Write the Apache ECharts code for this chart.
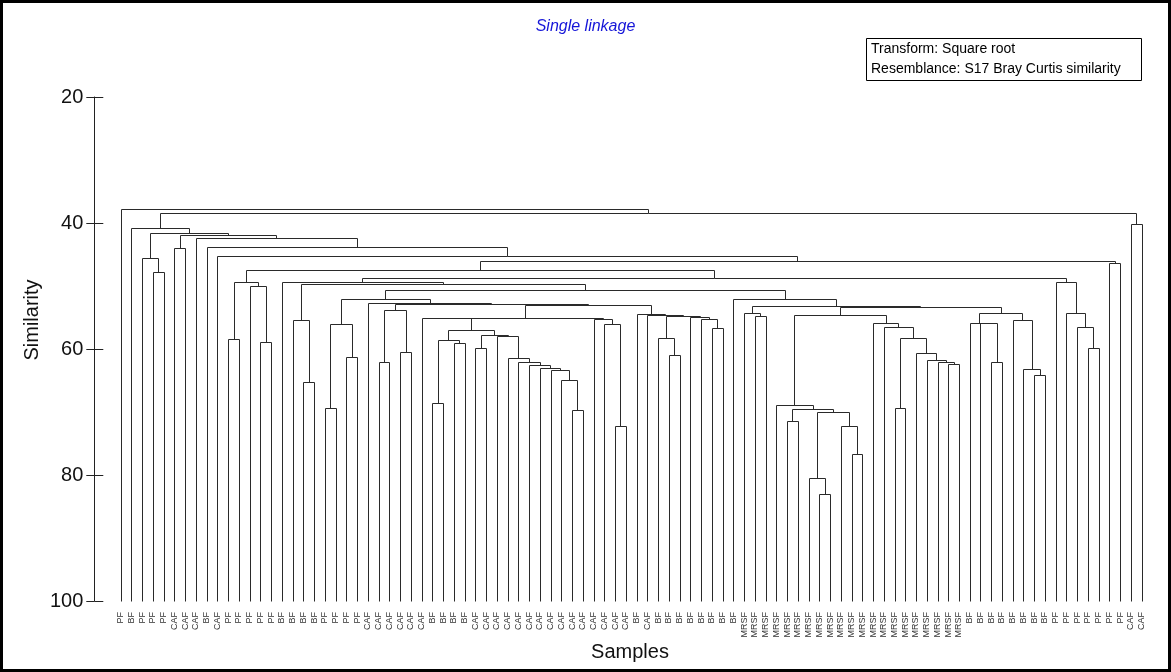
<!DOCTYPE html>
<html>
<head>
<meta charset="utf-8">
<script src="https://cdn.jsdelivr.net/npm/echarts@6/dist/echarts.min.js"></script>
<style>
html,body{margin:0;padding:0;background:#fff;}
#chart{width:1171px;height:672px;}
</style>
</head>
<body>
<div id="chart"></div>
<script>
// Leaf labels, left to right
const leafLabels = [
  'PF','BF','PF','PF','PF','CAF','CAF','CAF','BF','CAF',
  'PF','PF','PF','PF','PF','BF','BF','BF','BF',
  'PF','PF','PF','PF',
  'CAF','CAF','CAF','CAF','CAF','CAF',
  'BF','BF','BF','BF',
  'CAF','CAF','CAF','CAF','CAF','CAF','CAF','CAF','CAF','CAF','CAF','CAF','CAF','CAF','CAF',
  'BF','CAF',
  'BF','BF','BF','BF','BF','BF','BF','BF',
  'MRSF','MRSF','MRSF','MRSF','MRSF','MRSF','MRSF','MRSF','MRSF','MRSF','MRSF',
  'MRSF','MRSF','MRSF','MRSF','MRSF','MRSF','MRSF','MRSF','MRSF','MRSF',
  'BF','BF','BF','BF','BF','BF','BF','BF',
  'PF','PF','PF','PF','PF','PF','PF',
  'CAF','CAF'
];

// Merges (hclust style): negative = leaf number, positive = earlier merge row; third = similarity
const merges = [
  [-4,-5,47.8],[-3,1,45.6],[-6,-7,44.0],[-11,-12,58.4],[-14,-15,58.9],
  [-13,5,50.0],[4,6,49.3],[-18,-19,65.2],[-17,8,55.4],[-20,-21,69.4],
  [-22,-23,61.2],[10,11,56.1],[-25,-26,62.0],[-27,-28,60.5],[13,14,53.8],
  [-30,-31,68.5],[-32,-33,59.1],[16,17,58.6],[-34,-35,59.8],[-43,-44,69.7],
  [-42,20,64.9],[-41,21,63.3],[-40,22,63.0],[-39,23,62.5],[-38,24,62.0],
  [-37,25,61.4],[-36,26,57.9],[19,27,57.7],[18,28,57.0],[-29,29,55.1],
  [-47,-48,72.2],[-46,31,56.1],[-45,32,55.2],[30,33,55.0],[-52,-53,61.0],
  [-51,35,58.3],[-56,-57,56.6],[-55,37,55.2],[-54,38,54.9],[36,39,54.8],
  [-50,40,54.6],[-49,41,54.5],[34,42,53.0],[15,43,52.9],[-24,44,52.7],
  [12,45,52.1],[-60,-61,54.7],[-59,47,54.3],[-63,-64,71.4],[-66,-67,83.0],
  [-65,50,80.5],[-69,-70,76.7],[-68,52,72.3],[51,53,70.0],[49,54,69.6],
  [-62,55,68.9],[-73,-74,69.4],[-78,-79,62.4],[-77,58,62.1],[-76,59,61.7],
  [-75,60,60.7],[57,61,58.3],[-72,62,56.5],[-71,63,55.9],[56,64,54.6],
  [-82,-83,62.0],[-81,66,55.9],[-80,67,55.8],[-86,-87,64.2],[-85,69,63.2],
  [-84,70,55.4],[68,71,54.3],[65,72,53.4],[48,73,53.1],[-58,74,52.1],
  [46,75,50.6],[9,76,49.7],[-16,77,49.4],[-91,-92,59.9],[-90,79,56.5],
  [-89,80,54.3],[-88,81,49.4],[78,82,48.8],[7,83,47.5],[-93,-94,46.4],
  [84,85,46.1],[-10,86,45.3],[-9,87,43.8],[-8,88,42.4],[3,89,41.9],
  [2,90,41.6],[-2,91,40.8],[-95,-96,40.2],[92,93,38.4],[-1,94,37.8]
];

const yTicks = [20,40,60,80,100];

// Build U-shapes from the merge table
const nodeX = [], nodeH = [];
function childPos(c){ return c < 0 ? [-c, 100] : [nodeX[c-1], nodeH[c-1]]; }
const segs = merges.map((m,i)=>{
  const l = childPos(m[0]), r = childPos(m[1]);
  nodeX[i] = (l[0]+r[0])/2; nodeH[i] = m[2];
  return [l[0], l[1], r[0], r[1], m[2]];
});

function crisp(p){ return [Math.round(p[0])+0.5, Math.round(p[1])+0.5]; }

const chart = echarts.init(document.getElementById('chart'), null, {renderer:'canvas'});
chart.setOption({
  animation:false,
  backgroundColor:'#fff',
  grid:{left:120.7, right:29.3, top:97, bottom:71},
  xAxis:{
    type:'value', min:1, max:leafLabels.length, interval:1,
    axisLine:{show:false}, axisTick:{show:false}, splitLine:{show:false},
    axisLabel:{
      rotate:90, fontSize:9, color:'#333', margin:11, fontFamily:'Liberation Sans, Arial',
      formatter:v=>leafLabels[Math.round(v)-1] || ''
    }
  },
  yAxis:[{
    type:'value', inverse:true, min:yTicks[0], max:yTicks[yTicks.length-1], interval:20,
    position:'left', offset:26.4,
    axisLine:{show:true, lineStyle:{color:'#222', width:1}},
    axisTick:{show:true, inside:false, length:8, lineStyle:{color:'#222'}},
    axisLabel:{show:true, fontSize:20, color:'#111', margin:11, fontFamily:'Liberation Sans, Arial'},
    splitLine:{show:false}
  },{
    type:'value', inverse:true, min:yTicks[0], max:yTicks[yTicks.length-1], interval:20,
    position:'left', offset:26.4,
    axisLine:{show:false},
    axisTick:{show:true, inside:true, length:9, lineStyle:{color:'#222'}},
    axisLabel:{show:false}, splitLine:{show:false}
  }],
  series:[{
    type:'custom',
    xAxisIndex:0, yAxisIndex:0,
    data:segs,
    encode:{x:[0,2], y:[1,3,4]},
    renderItem:function(params, api){
      const p1 = crisp(api.coord([api.value(0), api.value(1)]));
      const p2 = crisp(api.coord([api.value(0), api.value(4)]));
      const p3 = crisp(api.coord([api.value(2), api.value(4)]));
      const p4 = crisp(api.coord([api.value(2), api.value(3)]));
      return {type:'polyline', shape:{points:[p1,p2,p3,p4]},
        style:{stroke:'#2a2a2a', lineWidth:1, fill:null}};
    }
  }],
  graphic:[
    {type:'rect', shape:{x:1.5,y:1.5,width:1168,height:669}, style:{fill:null, stroke:'#000', lineWidth:3}, silent:true},
    {type:'text', left:'center', top:19, style:{text:'Single linkage', fill:'#1515d8', font:'italic 16px "Liberation Sans", Arial', textAlign:'center'}},
    {type:'rect', shape:{x:866.5,y:38.5,width:275,height:42}, style:{fill:'#fff', stroke:'#000', lineWidth:1}},
    {type:'text', x:871, y:42, style:{text:'Transform: Square root', fill:'#000', font:'14px "Liberation Sans", Arial'}},
    {type:'text', x:871, y:62, style:{text:'Resemblance: S17 Bray Curtis similarity', fill:'#000', font:'14px "Liberation Sans", Arial'}},
    {type:'text', x:22, y:320, rotation:Math.PI/2, style:{text:'Similarity', fill:'#111', font:'20px "Liberation Sans", Arial', textAlign:'center', textVerticalAlign:'top'}},
    {type:'text', x:630, y:642, style:{text:'Samples', fill:'#111', font:'20px "Liberation Sans", Arial', textAlign:'center'}}
  ]
});
</script>
</body>
</html>
